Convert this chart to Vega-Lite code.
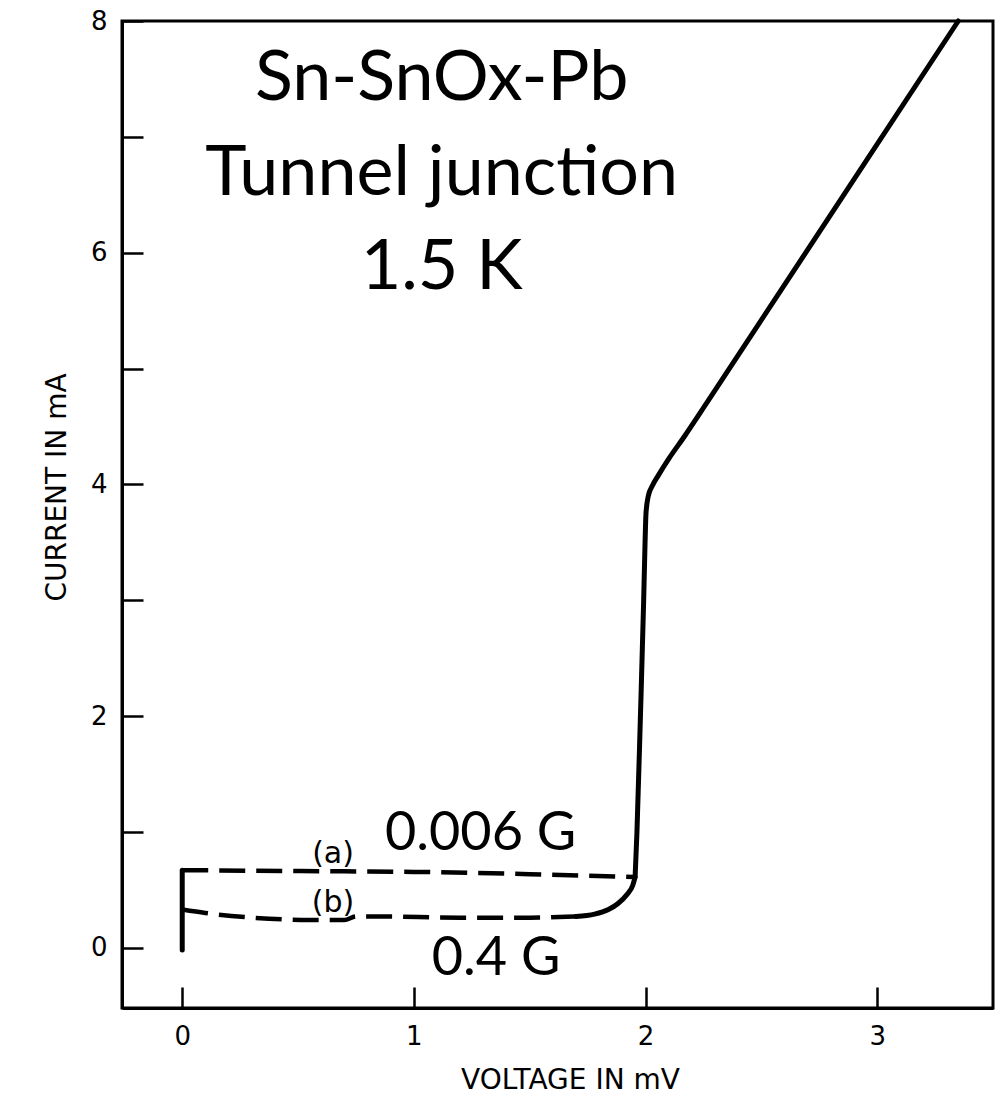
{
  "$schema": "https://vega.github.io/schema/vega-lite/v6.json",
  "width": 871,
  "height": 987,
  "autosize": {"type": "none"},
  "padding": {"left": 122, "top": 21, "right": 8, "bottom": 88},
  "background": "white",
  "config": {
    "view": {"stroke": "black", "strokeWidth": 3},
    "axis": {
      "domainColor": "black", "domainWidth": 3,
      "tickColor": "black", "tickWidth": 2.5, "tickSize": -21,
      "labelColor": "black", "labelFont": "DejaVu Sans", "labelFontSize": 26,
      "titleColor": "black", "titleFont": "DejaVu Sans", "titleFontSize": 28, "titleFontWeight": "normal",
      "grid": false
    }
  },
  "datasets": {
    "curves": [
      {"series": "zero", "kind": "solid", "o": 0, "v": 0, "i": -0.02},
      {"series": "zero", "kind": "solid", "o": 1, "v": 0, "i": 0.67},
      {"series": "main", "kind": "solid", "o": 0, "v": 1.955, "i": 0.61},
      {"series": "main", "kind": "solid", "o": 1, "v": 1.963, "i": 1.0},
      {"series": "main", "kind": "solid", "o": 2, "v": 1.978, "i": 2.0},
      {"series": "main", "kind": "solid", "o": 3, "v": 1.992, "i": 3.0},
      {"series": "main", "kind": "solid", "o": 4, "v": 1.998, "i": 3.5},
      {"series": "main", "kind": "solid", "o": 5, "v": 2.002, "i": 3.75},
      {"series": "main", "kind": "solid", "o": 6, "v": 2.012, "i": 3.9},
      {"series": "main", "kind": "solid", "o": 7, "v": 2.03, "i": 3.99},
      {"series": "main", "kind": "solid", "o": 8, "v": 2.056, "i": 4.08},
      {"series": "main", "kind": "solid", "o": 9, "v": 2.1, "i": 4.22},
      {"series": "main", "kind": "solid", "o": 10, "v": 2.17, "i": 4.42},
      {"series": "main", "kind": "solid", "o": 11, "v": 2.27, "i": 4.72},
      {"series": "main", "kind": "solid", "o": 12, "v": 3.35, "i": 8.0},
      {"series": "btail", "kind": "solid", "o": 0, "v": 1.7, "i": 0.27},
      {"series": "btail", "kind": "solid", "o": 1, "v": 1.78, "i": 0.29},
      {"series": "btail", "kind": "solid", "o": 2, "v": 1.84, "i": 0.33},
      {"series": "btail", "kind": "solid", "o": 3, "v": 1.88, "i": 0.38},
      {"series": "btail", "kind": "solid", "o": 4, "v": 1.92, "i": 0.46},
      {"series": "btail", "kind": "solid", "o": 5, "v": 1.945, "i": 0.54},
      {"series": "btail", "kind": "solid", "o": 6, "v": 1.955, "i": 0.61},
      {"series": "a", "kind": "dashed", "o": 0, "v": 0, "i": 0.67},
      {"series": "a", "kind": "dashed", "o": 1, "v": 0.3, "i": 0.665},
      {"series": "a", "kind": "dashed", "o": 2, "v": 0.7, "i": 0.66},
      {"series": "a", "kind": "dashed", "o": 3, "v": 1.0, "i": 0.655},
      {"series": "a", "kind": "dashed", "o": 4, "v": 1.5, "i": 0.635},
      {"series": "a", "kind": "dashed", "o": 5, "v": 1.95, "i": 0.61},
      {"series": "b", "kind": "dashed", "o": 0, "v": 0, "i": 0.33},
      {"series": "b", "kind": "dashed", "o": 1, "v": 0.1, "i": 0.3},
      {"series": "b", "kind": "dashed", "o": 2, "v": 0.3, "i": 0.26},
      {"series": "b", "kind": "dashed", "o": 3, "v": 0.55, "i": 0.24},
      {"series": "b", "kind": "dashed", "o": 4, "v": 0.7, "i": 0.24},
      {"series": "b", "kind": "dashed", "o": 5, "v": 0.75, "i": 0.27},
      {"series": "b", "kind": "dashed", "o": 6, "v": 0.85, "i": 0.27},
      {"series": "b", "kind": "dashed", "o": 7, "v": 1.2, "i": 0.26},
      {"series": "b", "kind": "dashed", "o": 8, "v": 1.5, "i": 0.26},
      {"series": "b", "kind": "dashed", "o": 9, "v": 1.7, "i": 0.27}
    ],
    "titles": [
      {"t": "Sn-SnOx-Pb", "v": 1.12, "i": 7.32},
      {"t": "Tunnel junction", "v": 1.12, "i": 6.5},
      {"t": "1.5 K", "v": 1.12, "i": 5.69}
    ],
    "fields": [
      {"t": "0.006 G", "v": 1.288, "i": 0.846},
      {"t": "0.4 G", "v": 1.355, "i": -0.233}
    ],
    "tags": [
      {"t": "(a)", "v": 0.651, "i": 0.73},
      {"t": "(b)", "v": 0.651, "i": 0.31}
    ]
  },
  "encoding": {
    "x": {"field": "v", "type": "quantitative",
      "scale": {"domain": [-0.26, 3.5], "nice": false, "zero": false},
      "axis": {"values": [0, 1, 2, 3], "labelPadding": 49, "labelBaseline": "middle",
        "labelFontSize": 26, "labelFont": "DejaVu Sans", "titleFontSize": 28, "titleFont": "DejaVu Sans",
        "title": "VOLTAGE IN mV", "titleX": 448, "titleY": 72, "titleBaseline": "middle"}},
    "y": {"field": "i", "type": "quantitative",
      "scale": {"domain": [-0.52, 8], "nice": false, "zero": false},
      "axis": {"values": [0, 1, 2, 3, 4, 5, 6, 7, 8], "labelPadding": 36,
        "labelFontSize": 26, "labelFont": "DejaVu Sans", "titleFontSize": 28, "titleFont": "DejaVu Sans",
        "labelExpr": "datum.value % 2 == 0 ? datum.label : ''",
        "title": "CURRENT IN mA", "titleX": -65, "titleY": 466, "titleBaseline": "middle", "titleAngle": -90}}
  },
  "layer": [
    {
      "data": {"name": "curves"},
      "transform": [{"filter": "datum.kind == 'solid'"}],
      "mark": {"type": "line", "color": "black", "strokeWidth": 5, "strokeCap": "round", "strokeJoin": "round", "interpolate": "monotone"},
      "encoding": {"detail": {"field": "series"}, "order": {"field": "o"}}
    },
    {
      "data": {"name": "curves"},
      "transform": [{"filter": "datum.kind == 'dashed'"}],
      "mark": {"type": "line", "color": "black", "strokeWidth": 4.5, "strokeDash": [26, 11], "interpolate": "monotone"},
      "encoding": {"detail": {"field": "series"}, "order": {"field": "o"}}
    },
    {
      "data": {"name": "titles"},
      "mark": {"type": "text", "font": "Lato", "fontSize": 70, "align": "center", "baseline": "alphabetic", "color": "black"},
      "encoding": {"text": {"field": "t"}}
    },
    {
      "data": {"name": "fields"},
      "mark": {"type": "text", "font": "Lato", "fontSize": 54, "align": "center", "baseline": "alphabetic", "color": "black"},
      "encoding": {"text": {"field": "t"}}
    },
    {
      "data": {"name": "tags"},
      "mark": {"type": "text", "font": "DejaVu Sans", "fontSize": 30, "align": "center", "baseline": "alphabetic", "color": "black"},
      "encoding": {"text": {"field": "t"}}
    }
  ]
}
